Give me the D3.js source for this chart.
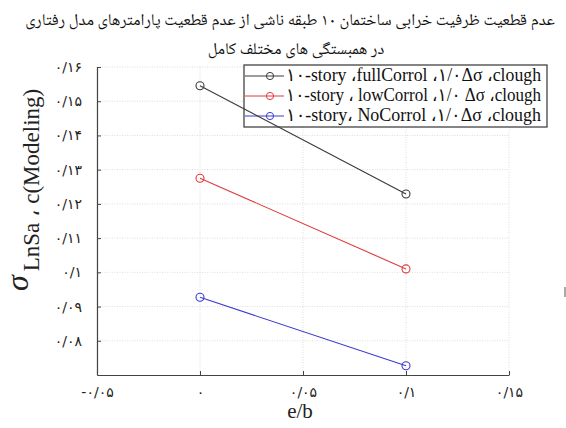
<!DOCTYPE html>
<html><head><meta charset="utf-8">
<script src="https://cdn.jsdelivr.net/npm/d3@7"></script>
<style>
html,body{margin:0;padding:0;background:#fff;}
svg{display:block;}
</style></head>
<body>
<svg id="chart" width="566" height="428"></svg>
<script>
// ---- data ----
const xValues = [0, 0.1];
const seriesNames = [
  "۱۰-story ،fullCorrol ،۱/۰Δσ ،clough",
  "۱۰-story ، lowCorrol ،۱/۰ Δσ ،clough",
  "۱۰-story، NoCorrol ،۱/۰Δσ ،clough"
];
const fullCorrol = [0.1545, 0.1229];
const lowCorrol  = [0.1275, 0.1010];
const noCorrol   = [0.0927, 0.0727];
const seriesColors = ["#3a3a3a", "#e03a3a", "#3b3bd0"];
const xTicks = [-0.05, 0, 0.05, 0.1, 0.15];
const xTickLabels = ["-۰/۰۵", "۰", "۰/۰۵", "۰/۱", "۰/۱۵"];
const yTicks = [0.08, 0.09, 0.10, 0.11, 0.12, 0.13, 0.14, 0.15, 0.16];
const yTickLabels = ["۰/۰۸", "۰/۰۹", "۰/۱", "۰/۱۱", "۰/۱۲", "۰/۱۳", "۰/۱۴", "۰/۱۵", "۰/۱۶"];
const titleLines = [
  "عدم قطعیت ظرفیت خرابی ساختمان ۱۰ طبقه ناشی از عدم قطعیت پارامترهای مدل رفتاری",
  "در همبستگی های مختلف کامل"
];
const xLabel = "e/b";

const seriesValues = [fullCorrol, lowCorrol, noCorrol];

// ---- layout ----
const svg = d3.select("#chart");
const L = 97, R = 509, T = 67, B = 375;
const x = d3.scaleLinear().domain([-0.05, 0.15]).range([L, R]);
const y = d3.scaleLinear().domain([0.07, 0.16]).range([B, T]);
const serif = "'Liberation Serif','Times New Roman','DejaVu Sans',serif";
const digitFont = "'DejaVu Sans','Liberation Serif',serif";

// title
svg.selectAll("text.title").data(titleLines).join("text")
  .attr("class","title")
  .attr("x", (d,i)=> i===0 ? 290 : 296)
  .attr("y", (d,i)=> i===0 ? 25 : 54)
  .attr("text-anchor","middle")
  .attr("direction","rtl")
  .style("direction","rtl")
  .style("unicode-bidi","embed")
  .attr("font-family","'Noto Naskh Arabic','DejaVu Sans',serif")
  .attr("font-size", 16.5)
  .attr("fill","#111")
  .text(d=>d);

// grid
const grid = svg.append("g");
grid.selectAll("line.gx").data(xTicks).join("line")
  .attr("x1", d=>x(d)).attr("x2", d=>x(d)).attr("y1", T).attr("y2", B)
  .attr("stroke","#d4d4d4").attr("stroke-width",0.8).attr("stroke-dasharray","1,1.5");
grid.selectAll("line.gy").data(yTicks).join("line")
  .attr("x1", L).attr("x2", R).attr("y1", d=>y(d)).attr("y2", d=>y(d))
  .attr("stroke","#d4d4d4").attr("stroke-width",0.8).attr("stroke-dasharray","1,1.5");

// axes
const xAxis = d3.axisBottom(x).tickValues(xTicks).tickSizeInner(-4).tickSizeOuter(0)
  .tickFormat((d,i)=>xTickLabels[i]).tickPadding(12);
const gx = svg.append("g").attr("transform",`translate(0,${B})`).call(xAxis);
gx.select(".domain").attr("stroke","#444").attr("stroke-width",1.2);
gx.selectAll(".tick line").attr("stroke","#444");
gx.selectAll(".tick text").attr("font-family",digitFont).attr("font-size",14).attr("fill","#222");

const yAxis = d3.axisLeft(y).tickValues(yTicks).tickSizeInner(-4).tickSizeOuter(0)
  .tickFormat((d,i)=>yTickLabels[i]).tickPadding(15);
const gy = svg.append("g").attr("transform",`translate(${L},0)`).call(yAxis);
gy.select(".domain").attr("stroke","#444").attr("stroke-width",1.2);
gy.selectAll(".tick line").attr("stroke","#444");
gy.selectAll(".tick text").attr("font-family",digitFont).attr("font-size",14).attr("fill","#222");

// x label
svg.append("text").attr("x", 300).attr("y", 418).attr("text-anchor","middle")
  .attr("font-family",serif).attr("font-size",21).attr("fill","#222").text(xLabel);

// y label
const yl = svg.append("text")
  .attr("transform","translate(28,0) rotate(-90)")
  .attr("x",-291).attr("y",0)
  .attr("font-family",serif).attr("fill","#222");
yl.append("tspan").attr("font-size",32).attr("font-style","italic").text("σ");
yl.append("tspan").attr("font-size",23).attr("dy",11).attr("dx",4).text("LnSa ، c(Modeling)");

// legend
const lg = svg.append("g");
lg.append("rect").attr("x",244).attr("y",65).attr("width",303).attr("height",62)
  .attr("fill","#fff").attr("stroke","#444").attr("stroke-width",1.3);
const rowY = [76, 96, 116];
seriesNames.forEach((n,i)=>{
  lg.append("line").attr("x1",245).attr("x2",284).attr("y1",rowY[i]).attr("y2",rowY[i])
    .attr("stroke",seriesColors[i]).attr("stroke-width",1);
  lg.append("circle").attr("cx",270).attr("cy",rowY[i]).attr("r",3.6)
    .attr("fill","none").attr("stroke",seriesColors[i]).attr("stroke-width",1);
  lg.append("text").attr("x",286).attr("y",rowY[i]+5)
    .attr("font-family",serif).attr("font-size",18).attr("fill","#111")
    .attr("textLength",255).attr("lengthAdjust","spacingAndGlyphs")
    .style("direction","ltr").style("unicode-bidi","bidi-override")
    .text(n);
});

// series
const line = d3.line().x((d,i)=>x(xValues[i])).y(d=>y(d));
seriesValues.forEach((vals,i)=>{
  svg.append("path").datum(vals).attr("d",line)
    .attr("fill","none").attr("stroke",seriesColors[i]).attr("stroke-width",1.1);
  svg.selectAll(null).data(vals).join("circle")
    .attr("cx",(d,j)=>x(xValues[j])).attr("cy",d=>y(d)).attr("r",4)
    .attr("fill","none").attr("stroke",seriesColors[i]).attr("stroke-width",1.1);
});

// small stray mark on right edge
svg.append("line").attr("x1",565).attr("x2",565).attr("y1",287).attr("y2",297)
  .attr("stroke","#555").attr("stroke-width",1);
</script>
</body></html>
